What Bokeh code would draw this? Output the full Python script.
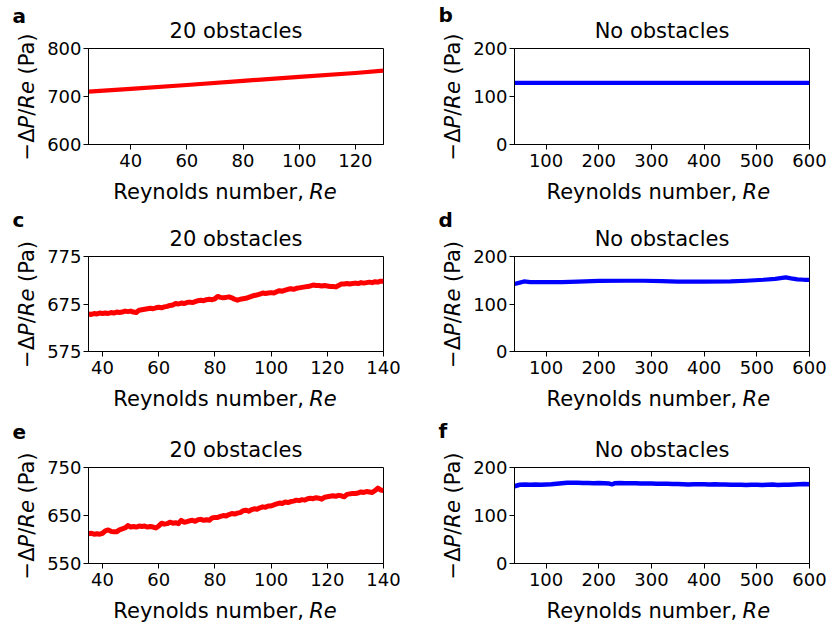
from math import pi
from bokeh.plotting import figure
from bokeh.models import Range1d, FixedTicker, Label
from bokeh.layouts import row, column
from bokeh.embed import file_html
from bokeh.resources import INLINE

# ---------------- data ----------------
re_a = [25, 40, 60, 80, 100, 120, 130]
dp_a = [710, 716, 724, 732.5, 741, 749, 754]

re_b = [40, 100, 200, 300, 400, 500, 600]
dp_b = [128.5, 128.5, 128.5, 128.5, 128.5, 128.5, 128.5]

re_c = list(range(35, 141))
dp_c = [654, 653, 655, 654, 656, 655, 656, 655, 657, 656,
        658, 657, 658, 660, 659, 660, 658, 657, 662, 663,
        664, 665, 666, 665, 667, 668, 667, 669, 670, 672,
        673, 676, 675, 677, 676, 678, 679, 678, 680, 682,
        683, 682, 684, 685, 684, 686, 691, 689, 688, 689,
        690, 688, 685, 683, 685, 686, 687, 689, 691, 693,
        694, 696, 698, 697, 698, 699, 698, 701, 703, 702,
        704, 706, 707, 706, 708, 709, 710, 711, 712, 713,
        715, 714, 714, 713, 714, 713, 712, 712, 711, 714,
        717, 717, 718, 717, 718, 719, 718, 720, 719, 720,
        721, 720, 722, 721, 723, 723]

re_d = [40, 50, 58, 70, 100, 130, 160, 200, 250, 285, 320, 350, 400,
        450, 480, 513, 535, 555, 565, 577, 590, 600]
dp_d = [142, 145, 147.5, 146, 146, 146, 147, 148.5, 149, 149, 148, 147, 147,
        147.5, 149, 151, 153, 156, 154, 152, 151, 151]

re_e = list(range(35, 141))
dp_e = [612, 613, 611, 612, 611, 613, 618, 620, 617, 616,
        616, 620, 622, 624, 629, 626, 627, 626, 628, 627,
        628, 626, 627, 626, 624, 628, 634, 632, 633, 636,
        634, 635, 633, 640, 636, 637, 639, 640, 638, 641,
        642, 640, 641, 640, 645, 646, 646, 648, 650, 649,
        652, 654, 653, 655, 656, 660, 661, 659, 662, 664,
        663, 666, 668, 667, 670, 670, 672, 674, 676, 675,
        678, 677, 679, 680, 682, 681, 683, 682, 685, 686,
        685, 687, 686, 684, 688, 689, 690, 691, 690, 692,
        691, 689, 694, 695, 696, 696, 697, 699, 698, 700,
        699, 698, 702, 707, 703, 702]

re_f = [40, 50, 60, 70, 80, 90, 100, 110, 120, 130, 140, 150, 160, 170, 180,
        190, 200, 210, 220, 225, 230, 240, 250, 260, 270, 280, 290, 300, 310,
        320, 330, 340, 350, 360, 370, 380, 390, 400, 410, 420, 430, 440, 450,
        460, 470, 480, 490, 500, 510, 520, 530, 540, 550, 560, 570, 580, 590, 600]
dp_f = [161, 164, 164.5, 164, 164.5, 164, 164.5, 165, 166, 167, 168, 168, 168,
        167.5, 167.5, 167, 167.5, 167, 166.5, 165, 167, 167.5, 167, 167, 167,
        166.5, 166.5, 166.5, 166, 166, 166, 165.5, 165.5, 165, 164.5, 165, 165,
        165, 164.5, 165, 164.5, 164.5, 164, 164, 164, 163.5, 164, 164, 163.5,
        164, 164.5, 163.5, 164, 164, 164.5, 165, 165.5, 165]

xticks_20a = [40, 60, 80, 100, 120]
xticks_20 = [40, 60, 80, 100, 120, 140]
xticks_no = [100, 200, 300, 400, 500, 600]
yticks_a = [600, 700, 800]
yticks_c = [575, 675, 775]
yticks_e = [550, 650, 750]
yticks_no = [0, 100, 200]

letters = ["a", "b", "c", "d", "e", "f"]
title_20 = "20 obstacles"
title_no = "No obstacles"
xlabel_main = "Reynolds number,"
xlabel_ital = "Re"
ylabel_segs = [("−Δ", "normal"), ("P", "italic"), ("/", "normal"),
               ("Re", "italic"), (" ", None), ("(Pa)", "normal")]

RED = "#ff0000"
BLUE = "#0000ff"
FONT = "DejaVu Sans"
LFS = 21      # label / title font size (px)
TFS = 18      # tick label font size (px)
PFS = 20      # panel letter font size (px)
SHIFT = 0.27  # baseline correction for Label annotations (fraction of font size)

# DejaVu Sans advance widths (units per em = 2048), for placing text pieces
ADV = {' ': 651, '(': 799, ')': 799, '/': 690, 'P': 1235, 'R': 1423, 'a': 1255,
       'e': 1260, 'Δ': 1403, '−': 1716, 'y': 1212, 'n': 1298, 'o': 1253,
       'l': 569, 'd': 1300, 's': 1067, 'u': 1298, 'm': 1995, 'b': 1300,
       'r': 842, ',': 651}


def tw(s, size):
    return sum(ADV.get(c, 1250) for c in s) / 2048 * size


FW = 295          # frame width of every panel


def text_fig(w, h):
    f = figure(width=w, height=h, x_range=Range1d(0, w), y_range=Range1d(0, h),
               x_axis_location=None, y_axis_location=None,
               toolbar_location=None, output_backend="svg", min_border=0)
    f.grid.visible = False
    f.outline_line_color = None
    return f


def lab(f, x, y, text, **kw):
    opts = dict(text_font=FONT, text_font_size=f"{LFS}px", text_color="black",
                text_baseline="alphabetic", text_align="left")
    opts.update(kw)
    f.add_layout(Label(x=x, y=y, text=text, **opts))


def panel(letter, title, xs, ys, color, lw, xr, yr, xt, yt, left_col,
          row_h, ft, fh, letter_off):
    strip_w = 44 if left_col else 56
    bl = 44                              # main figure left border
    right_w = 414 - strip_w
    br = right_w - bl - FW               # main figure right border
    bb = 31
    main_h = ft + fh + bb
    xl_h = row_h - main_h
    sh = SHIFT * LFS

    # ---- main plot (title in its own above panel) ----
    p = figure(frame_width=FW, frame_height=fh,
               x_range=Range1d(*xr), y_range=Range1d(*yr),
               output_backend="svg", toolbar_location=None,
               min_border_left=bl, min_border_right=br,
               min_border_top=ft, min_border_bottom=bb, title=title)
    p.title.align = "center"
    p.title.vertical_align = "bottom"
    p.title.text_font = FONT
    p.title.text_font_size = f"{LFS}px"
    p.title.text_font_style = "normal"
    p.title.text_color = "black"
    p.title.standoff = 12
    p.line(xs, ys, line_color=color, line_width=lw, line_join="round")
    p.grid.visible = False
    p.outline_line_color = "black"
    p.outline_line_width = 1
    p.xaxis.ticker = FixedTicker(ticks=xt, minor_ticks=[])
    p.yaxis.ticker = FixedTicker(ticks=yt, minor_ticks=[])
    for ax in (p.xaxis[0], p.yaxis[0]):
        ax.axis_line_color = "black"
        ax.major_tick_line_color = "black"
        ax.major_tick_out = 5
        ax.major_tick_in = 0
        ax.minor_tick_out = 0
        ax.minor_tick_in = 0
        ax.major_label_text_font = FONT
        ax.major_label_text_font_size = f"{TFS}px"
        ax.major_label_text_color = "black"
    p.xaxis.major_label_standoff = 4
    p.yaxis.major_label_standoff = 2

    # ---- x label: "Reynolds number, " + italic "Re" ----
    xl = text_fig(right_w, xl_h)
    w1 = tw(xlabel_main + " ", LFS)
    w2 = tw(xlabel_ital, LFS)
    split = bl + FW / 2 - (w1 + w2) / 2 + w1
    yb = xl_h - (53 - bb) + sh
    lab(xl, split - tw(" ", LFS), yb, xlabel_main, text_align="right")
    lab(xl, split, yb, xlabel_ital, text_font_style="italic")

    # ---- left strip: panel letter + rotated y label ----
    st = text_fig(strip_w, row_h)
    letter_x = 12 if left_col else 24
    lab(st, letter_x, row_h - (ft - letter_off) + SHIFT * PFS, letter,
        text_font_style="bold", text_font_size=f"{PFS}px")
    yc = row_h - (ft + fh / 2)
    total = sum(tw(s, LFS) for s, _ in ylabel_segs)
    y0 = yc - total / 2
    base_x = (32 if left_col else 44) - sh
    for s, sty in ylabel_segs:
        if sty is not None:
            lab(st, base_x, y0, s, angle=pi / 2, text_font_style=sty)
        y0 += tw(s, LFS)

    return row(st, column(p, xl, spacing=0), spacing=0)


pa = panel(letters[0], title_20, re_a, dp_a, RED, 4.2, (25, 130), (600, 800),
           xticks_20a, yticks_a, True, 205, 48, 96, 27.5)
pb = panel(letters[1], title_no, re_b, dp_b, BLUE, 4.2, (40, 600), (0, 200),
           xticks_no, yticks_no, False, 205, 48, 96, 28)
pc = panel(letters[2], title_20, re_c, dp_c, RED, 5, (35, 140), (575, 775),
           xticks_20, yticks_c, True, 209, 51, 95, 31)
pd = panel(letters[3], title_no, re_d, dp_d, BLUE, 4.2, (40, 600), (0, 200),
           xticks_no, yticks_no, False, 209, 51, 95, 31)
pe = panel(letters[4], title_20, re_e, dp_e, RED, 5, (35, 140), (550, 750),
           xticks_20, yticks_e, True, 208, 53, 96, 30)
pf = panel(letters[5], title_no, re_f, dp_f, BLUE, 4.5, (40, 600), (0, 200),
           xticks_no, yticks_no, False, 208, 53, 96, 31)

layout = column(row(pa, pb, spacing=0), row(pc, pd, spacing=0),
                row(pe, pf, spacing=0), spacing=0)

open("out.html", "w").write(file_html(layout, INLINE))
